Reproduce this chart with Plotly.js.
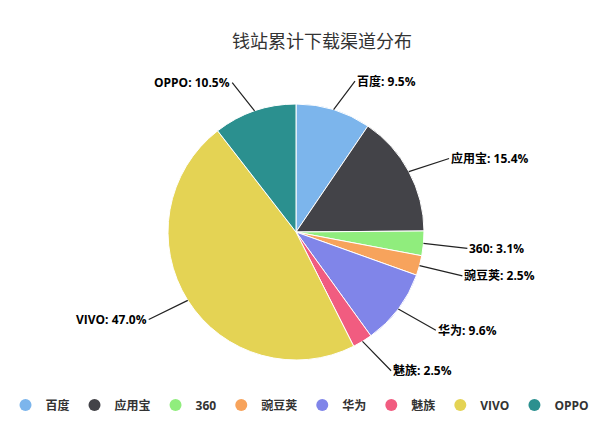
<!DOCTYPE html>
<html>
<head>
<meta charset="utf-8">
<script src="https://cdn.plot.ly/plotly-3.0.1.min.js"></script>
<style>html,body{margin:0;padding:0;background:#fff;}#chart{width:600px;height:422px;}</style>
</head>
<body>
<div id="chart"></div>
<script>
var categories = ['百度', '应用宝', '360', '豌豆荚', '华为', '魅族', 'VIVO', 'OPPO'];
var values = [9.5, 15.4, 3.1, 2.5, 9.6, 2.5, 47.0, 10.5];
var colors = ['#7cb5ec', '#434348', '#90ed7d', '#f7a35c', '#8085e9', '#f15c80', '#e4d354', '#2b908f'];
var chartTitle = '钱站累计下载渠道分布';

var W = 600, H = 422;
var FONT = '"Noto Sans CJK SC", "Microsoft YaHei", sans-serif';
var LFONT = 'Open Sans, Noto Sans CJK SC, sans-serif';
var domX = [0, 592 / W];
var domY = [1 - 360 / H, 1 - 104 / H];
var cx = (domX[0] + domX[1]) / 2, cy = (domY[0] + domY[1]) / 2;
var Rpx = Math.min((domX[1] - domX[0]) * W, (domY[1] - domY[0]) * H) / 2;

var total = values.reduce(function (a, b) { return a + b; }, 0);
var annotations = [];
var cum = 0;
values.forEach(function (v, i) {
  var mid = (cum + v / 2) / total * 2 * Math.PI;
  cum += v;
  var s = Math.sin(mid), c = Math.cos(mid);
  var right = s >= 0;
  var L = 32, g = 12;
  annotations.push({
    xref: 'paper', yref: 'paper',
    x: cx + s * Rpx / W, y: cy + c * Rpx / H,
    ax: s * L + (right ? g : -g), ay: -c * L + 2,
    axref: 'pixel', ayref: 'pixel',
    showarrow: true, arrowhead: 0, arrowwidth: 1.2, arrowcolor: '#222222',
    xanchor: right ? 'left' : 'right', yanchor: 'middle',
    text: '<b>' + categories[i] + ': ' + v.toFixed(1) + '%</b>',
    font: {family: LFONT, size: 12, color: '#000000'}
  });
});

var traces = [{
  type: 'pie',
  labels: categories,
  values: values,
  sort: false,
  direction: 'clockwise',
  rotation: 0,
  marker: {colors: colors, line: {color: '#ffffff', width: 1}},
  textinfo: 'none',
  hoverinfo: 'label+percent',
  showlegend: false,
  domain: {x: domX, y: domY}
}];
categories.forEach(function (name, i) {
  traces.push({
    type: 'scatter', mode: 'markers',
    x: [null], y: [null],
    name: name,
    marker: {color: colors[i], size: 12, symbol: 'circle'},
    showlegend: true, hoverinfo: 'skip'
  });
});

var layout = {
  width: W, height: H,
  margin: {l: 0, r: 0, t: 0, b: 0},
  paper_bgcolor: '#ffffff', plot_bgcolor: 'rgba(0,0,0,0)',
  title: {
    text: chartTitle,
    font: {family: FONT, size: 18, color: '#333333'},
    x: 322 / W, xanchor: 'center', y: 1 - 42 / H, yanchor: 'middle'
  },
  xaxis: {visible: false},
  yaxis: {visible: false},
  showlegend: true,
  legend: {
    orientation: 'h', x: 0.5, xanchor: 'center', y: 1 - 405 / H, yanchor: 'middle',
    font: {family: LFONT, size: 12, color: '#333333', weight: 'bold'},
    itemclick: false, itemdoubleclick: false
  },
  annotations: annotations
};

Plotly.newPlot('chart', traces, layout, {displayModeBar: false, staticPlot: true});
</script>
</body>
</html>
